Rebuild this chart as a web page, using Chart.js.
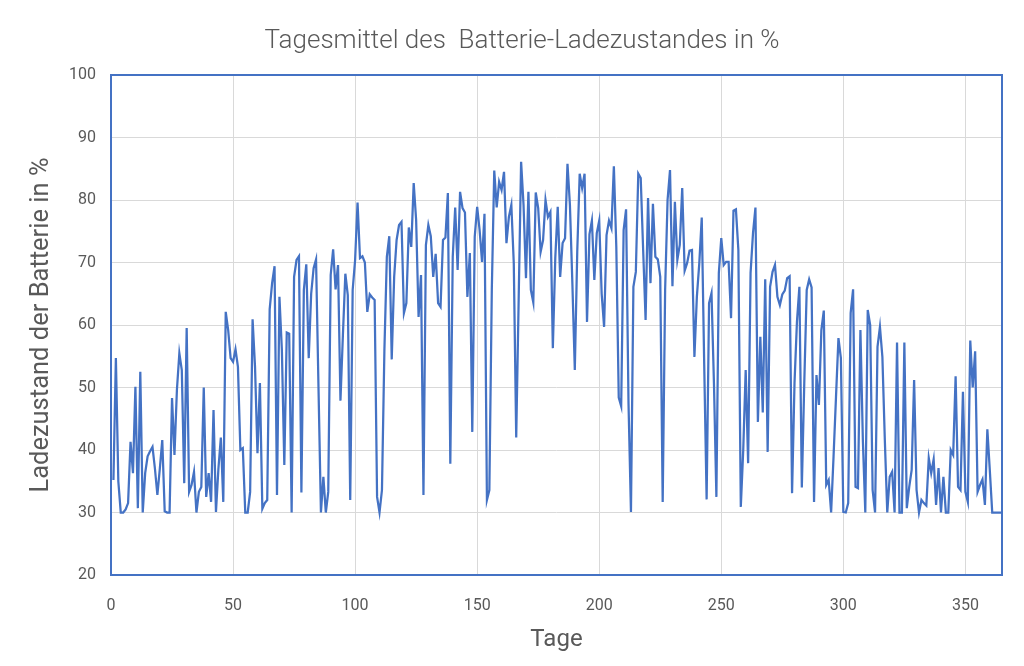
<!DOCTYPE html>
<html><head><meta charset="utf-8">
<script src="https://cdn.jsdelivr.net/npm/chart.js@4.4.1/dist/chart.umd.min.js"></script>
<style>html,body{margin:0;padding:0;background:#fff;}#wrap{width:1024px;height:666px;position:relative;}canvas{display:block;}</style>
</head><body><div id="wrap"><canvas id="c" width="1024" height="666"></canvas></div>
<script>
const chartTitle = 'Tagesmittel des  Batterie-Ladezustandes in %';
const xAxisTitle = 'Tage';
const yAxisTitle = 'Ladezustand der Batterie in %';
const xTickLabels = [0, 50, 100, 150, 200, 250, 300, 350];
const yTickLabels = [20, 30, 40, 50, 60, 70, 80, 90, 100];
const firstDay = 1;
const dailySoc = [
35.2,54.7,35,30,30,30.5,31.5,41.3,36.3,50.1,
30.7,52.5,30,36.3,39,39.8,40.5,37,32.8,37,
41.6,30.2,30,30,48.3,39.2,49.6,55.5,52.8,34.7,
59.5,33.3,34.4,36.5,30,33.3,34.1,50,32.5,36.3,
31.7,46.4,30.1,37,42,31.7,62.1,59.2,54.7,54.1,
56.1,53.3,40,40.3,30,30,33.3,60.9,53.3,39.5,
50.7,30.6,31.5,32,62.5,66.7,69.4,32.8,64.5,56,
37.6,58.8,58.6,30,67.7,70.4,71,33.2,65.6,69.7,
54.7,65,69.1,70.5,50,30,35.7,30,33.3,68,
72.1,65.7,69.6,47.9,58.4,68.2,64.8,32,65.6,70.4,
79.6,70.7,71,70,62.1,64.9,64.4,64,32.5,30,
33.6,56,70.9,74.2,54.5,67.7,73.6,76,76.5,61.9,
63.5,75.6,72.5,82.7,76.8,61.3,68,32.8,72.8,76,
74.2,67.7,71.4,63.5,62.9,73.6,74,81.1,37.8,70.9,
78.8,68.8,81.3,78.7,78,64.5,71.5,42.9,74.1,78.9,
75.2,70.1,77.8,32,33.6,65.6,84.7,78.8,82.9,81.6,
84.5,73.1,77.3,79.2,69.9,42,64,86.1,79.2,67.5,
81.3,65.6,63.6,81.2,78.7,71.7,73.6,80,77.3,78.1,
56.3,70.7,78.9,67.7,73.1,73.9,85.8,79.2,66.7,52.8,
71.7,84.2,81.9,84.2,60.5,74.5,76.7,67.2,74.7,76.7,
65,59.7,74.4,76.7,75.5,85.4,72.5,48.4,47,75.2,
78.5,47.5,30.1,66.1,68.5,84.2,83.5,72,60.8,80.3,
66.7,79.4,70.9,70.5,67.7,31.7,65.6,80,84.8,66.2,
79.7,70.4,72.8,81.9,68.7,69.9,71.9,72,54.9,64.5,
69.9,77.2,53.9,32.1,63.5,65.1,50.7,32.5,68.3,73.9,
69.6,70.1,70.1,61.1,78.3,78.5,72,30.9,40,52.8,
37.9,68.3,74.7,78.8,44.5,58.1,46,67.3,39.7,66.1,
68.5,69.6,64.5,63.2,64.9,65.5,67.5,67.8,33.1,50.7,
60.5,66.1,34,50.7,65.6,67.3,66,31.7,52,47.2,
59.2,62.3,34.4,35.2,30,39,48.5,57.9,54.7,30.1,
30,31.5,61.9,65.7,34.1,33.9,59.2,41.6,30,62.4,
60,33.6,30,56.5,59.7,54.9,41.6,30,35.7,36.5,
30,57.2,30,30,57.2,30.7,34.1,36.8,51.2,33.6,
30,32,31.5,31.1,38.7,36.3,38.5,31.2,37.1,30,
35.7,30,30,40,39.2,51.8,34.1,33.6,49.3,33.3,
31.7,57.5,50,55.8,33.3,34.4,35.3,31.2,43.3,36.8,
30,30,30,30,30
];

const FONT = 'Roboto, "Liberation Sans", sans-serif';
const GREY = '#595959';
Chart.defaults.font.family = FONT;

const frame = {
  id: 'frame',
  afterDatasetsDraw(chart) {
    const {ctx, chartArea: a} = chart;
    ctx.save();
    ctx.strokeStyle = '#4472C4';
    ctx.lineWidth = 2;
    ctx.strokeRect(a.left, a.top, a.right - a.left, a.bottom - a.top);
    ctx.restore();
  }
};

const points = dailySoc.map((v, i) => ({x: firstDay + i, y: v}));

new Chart(document.getElementById('c'), {
  type: 'line',
  data: { datasets: [{
    data: points,
    borderColor: '#4472C4',
    borderWidth: 2.25,
    pointRadius: 0,
    tension: 0,
    fill: false
  }]},
  options: {
    responsive: false,
    animation: false,
    devicePixelRatio: 1,
    layout: { padding: { left: 42, right: 22, top: 0, bottom: 0 } },
    plugins: {
      legend: { display: false },
      tooltip: { enabled: false },
      title: {
        display: true, text: chartTitle, color: GREY,
        font: { family: FONT, size: 26, weight: '300' },
        padding: { top: 25.4, bottom: 18.4 }
      }
    },
    scales: {
      x: {
        type: 'linear', min: 0, max: 365,
        afterFit(s) { s.height = 91; },
        afterBuildTicks(s) { s.ticks = xTickLabels.map(v => ({value: v})); },
        ticks: { color: GREY, font: { size: 16 }, padding: 21, maxRotation: 0, autoSkip: false },
        grid: { color: '#d9d9d9', drawTicks: false, lineWidth: 1 },
        border: { display: false },
        title: { display: true, text: xAxisTitle, color: GREY, font: { size: 24 }, padding: { top: 0, bottom: 11.6 } }
      },
      y: {
        min: 20, max: 100,
        afterFit(s) { s.width = 69; },
        afterBuildTicks(s) { s.ticks = yTickLabels.map(v => ({value: v})); },
        ticks: { color: GREY, font: { size: 16 }, padding: 15 },
        grid: { color: '#d9d9d9', drawTicks: false, lineWidth: 1 },
        border: { display: false },
        title: { display: true, text: yAxisTitle, color: GREY, font: { size: 25.5 }, padding: { top: -15.3, bottom: 0 } }
      }
    }
  },
  plugins: [frame]
});
</script>
</body></html>
